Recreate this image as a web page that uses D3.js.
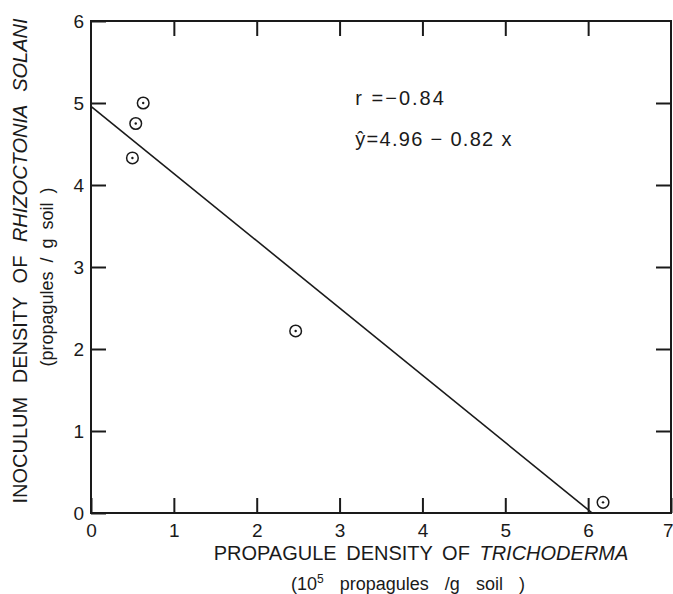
<!DOCTYPE html>
<html>
<head>
<meta charset="utf-8">
<script src="https://cdn.jsdelivr.net/npm/d3@7"></script>
<style>
html,body{margin:0;padding:0;background:#fff;}
svg{display:block;}
text{font-family:"Liberation Sans",Arial,sans-serif;fill:#1a1a1a;}
</style>
</head>
<body>
<svg id="chart" width="673" height="594"></svg>
<script>
// ---- data ----
const trichoderma = [0.63, 0.54, 0.50, 2.47, 6.18];   // 10^5 propagules / g soil
const rhizoctonia = [5.00, 4.75, 4.33, 2.22, 0.13];   // propagules / g soil
const xTicks = [0, 1, 2, 3, 4, 5, 6, 7];
const yTicks = [0, 1, 2, 3, 4, 5, 6];
const fitIntercept = 4.96;
const fitSlope = -0.82;
const rValue = -0.84;

const svg = d3.select("#chart");
const margin = {left: 91, top: 21, right: 2, bottom: 81};
const W = 673, H = 594;
const x = d3.scaleLinear().domain([0, 7]).range([margin.left, W - margin.right]);
const y = d3.scaleLinear().domain([0, 6]).range([H - margin.bottom, margin.top]);
const ink = "#1a1a1a";

// frame
svg.append("rect")
  .attr("x", x(0)).attr("y", y(6))
  .attr("width", x(7) - x(0)).attr("height", y(0) - y(6))
  .attr("fill", "none").attr("stroke", ink).attr("stroke-width", 2);

function styleAxis(g) {
  g.select(".domain").remove();
  g.selectAll(".tick line").attr("stroke", ink).attr("stroke-width", 2);
  g.selectAll(".tick text").attr("fill", ink).style("font-size", "19px")
    .style("font-family", '"Liberation Sans", Arial, sans-serif');
}

// bottom axis (labels)
const bx = svg.append("g").attr("transform", `translate(0,${y(0)})`)
  .call(d3.axisBottom(x).tickValues(xTicks).tickSize(-15).tickPadding(11).tickFormat(d3.format("d")))
  .call(styleAxis);
bx.selectAll(".tick text").filter(d => d === xTicks[xTicks.length - 1])
  .attr("text-anchor", "end").attr("x", 2);
// top axis (ticks only)
svg.append("g").attr("transform", `translate(0,${y(6)})`)
  .call(d3.axisTop(x).tickValues(xTicks.slice(1, -1)).tickSize(-15).tickFormat(""))
  .call(styleAxis);
// left axis (labels)
svg.append("g").attr("transform", `translate(${x(0)},0)`)
  .call(d3.axisLeft(y).tickValues(yTicks).tickSize(-15).tickPadding(7).tickFormat(d3.format("d")))
  .call(styleAxis);
// right axis (ticks only)
svg.append("g").attr("transform", `translate(${x(7)},0)`)
  .call(d3.axisRight(y).tickValues(yTicks.slice(1, -1)).tickSize(-15).tickFormat(""))
  .call(styleAxis);

// regression line
const xEnd = -fitIntercept / fitSlope;
svg.append("line")
  .attr("x1", x(0)).attr("y1", y(fitIntercept))
  .attr("x2", x(xEnd)).attr("y2", y(0))
  .attr("stroke", ink).attr("stroke-width", 1.6);

// points: circle with centre dot
const pts = trichoderma.map((v, i) => ({x: v, y: rhizoctonia[i]}));
const pg = svg.append("g").selectAll("g").data(pts).join("g")
  .attr("transform", d => `translate(${x(d.x)},${y(d.y)})`);
pg.append("circle").attr("r", 5.8).attr("fill", "#fff").attr("stroke", ink).attr("stroke-width", 1.5);
pg.append("circle").attr("r", 1.2).attr("fill", ink);

// annotations
svg.append("text").attr("x", x(3.19)).attr("y", y(4.98))
  .style("font-size", "20px").attr("letter-spacing", 2)
  .text(`r =${d3.format(".2f")(rValue).replace("-", "−")}`);
svg.append("text").attr("x", x(3.19)).attr("y", y(4.47))
  .style("font-size", "20px").attr("letter-spacing", 1.3)
  .text(`ŷ=${fitIntercept} − ${d3.format(".2f")(-fitSlope)} x`);

// x-axis title
const xt = svg.append("text").attr("x", 421).attr("y", 560).attr("text-anchor", "middle")
  .style("font-size", "20px").attr("word-spacing", 4);
xt.append("tspan").text("PROPAGULE DENSITY OF ");
xt.append("tspan").style("font-style", "italic").text("TRICHODERMA");

const xs = svg.append("text").attr("x", 408).attr("y", 590).attr("text-anchor", "middle")
  .style("font-size", "18px").attr("word-spacing", 11);
xs.append("tspan").text("(10");
xs.append("tspan").attr("dy", -7).style("font-size", "12px").text("5");
xs.append("tspan").attr("dy", 7).text(" propagules /g  soil )");

// y-axis title
const yt = svg.append("text").attr("transform", "translate(27,261) rotate(-90)")
  .attr("text-anchor", "middle").style("font-size", "20px").attr("word-spacing", 8);
yt.append("tspan").text("INOCULUM DENSITY OF ");
yt.append("tspan").style("font-style", "italic").text("RHIZOCTONIA  SOLANI");

svg.append("text").attr("transform", "translate(53,277) rotate(-90)")
  .attr("text-anchor", "middle").style("font-size", "18px").attr("word-spacing", 4)
  .text("(propagules / g soil )");
</script>
</body>
</html>
